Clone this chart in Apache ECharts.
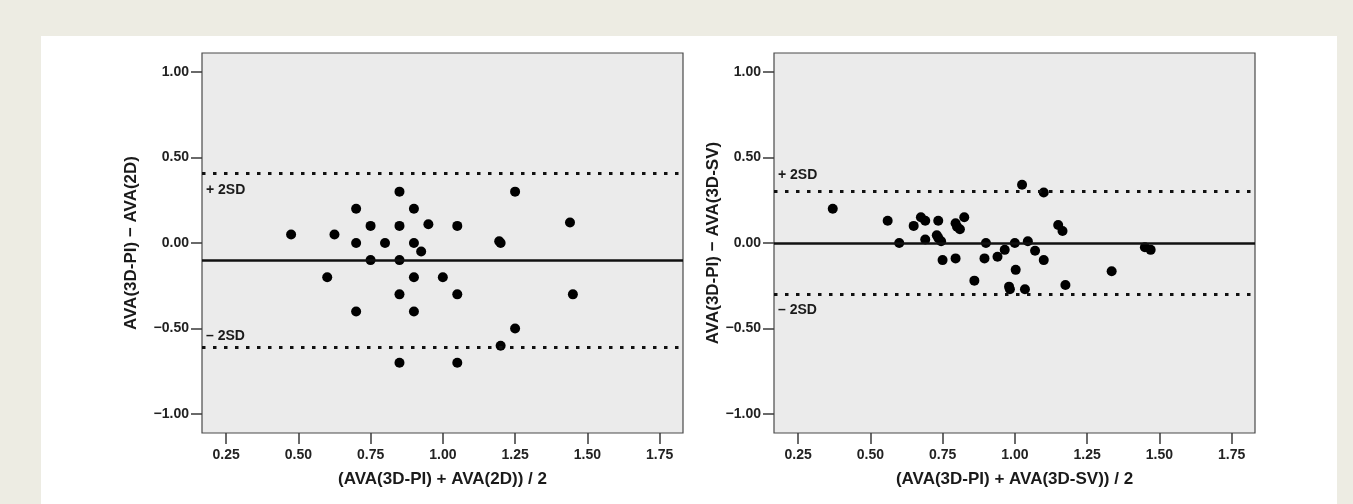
<!DOCTYPE html>
<html>
<head>
<meta charset="utf-8">
<script src="https://cdn.jsdelivr.net/npm/echarts@6/dist/echarts.min.js"></script>
<style>
  html, body { margin: 0; padding: 0; background: #edece3; }
  #card { position: absolute; left: 41px; top: 36px; width: 1296px; height: 468px; background: #fff; }
  #main { position: absolute; left: 0; top: 0; width: 1353px; height: 504px; }
</style>
</head>
<body>
<div id="card"></div>
<div id="main"></div>
<script>
// tick values shared by both panels
var xTicks = [0.25, 0.5, 0.75, 1.0, 1.25, 1.5, 1.75];
var yTicks = [-1.0, -0.5, 0.0, 0.5, 1.0];

// left panel: 3D-PI vs 2D
var leftMeanX = [0.475, 0.625, 0.60, 0.70, 0.70, 0.70, 0.75, 0.75, 0.80, 0.85, 0.85, 0.85, 0.85, 0.85,
  0.90, 0.90, 0.90, 0.90, 0.925, 0.95, 1.00, 1.05, 1.05, 1.05, 1.195, 1.20, 1.20, 1.25, 1.25, 1.44, 1.45];
var leftDiff = [0.05, 0.05, -0.20, 0.20, 0.00, -0.40, 0.10, -0.10, 0.00, 0.30, 0.10, -0.10, -0.30, -0.70,
  0.20, 0.00, -0.20, -0.40, -0.05, 0.11, -0.20, 0.10, -0.30, -0.70, 0.01, 0.00, -0.60, 0.30, -0.50, 0.12, -0.30];
var leftBias = -0.10;
var leftUpper = 0.41;
var leftLower = -0.61;

// right panel: 3D-PI vs 3D-SV
var rightMeanX = [0.37, 0.56, 0.60, 0.65, 0.675, 0.69, 0.69, 0.73, 0.735, 0.735, 0.745, 0.75, 0.795, 0.80,
  0.81, 0.825, 0.795, 0.86, 0.895, 0.90, 0.94, 0.965, 0.98, 0.983, 1.00, 1.003, 1.025, 1.035, 1.045,
  1.07, 1.10, 1.10, 1.15, 1.165, 1.175, 1.335, 1.45, 1.47];
var rightDiff = [0.20, 0.13, 0.00, 0.10, 0.15, 0.13, 0.02, 0.045, 0.13, 0.03, 0.01, -0.10, 0.115, 0.095,
  0.08, 0.15, -0.09, -0.22, -0.09, 0.00, -0.08, -0.04, -0.255, -0.27, 0.00, -0.157, 0.34, -0.27, 0.01,
  -0.045, 0.295, -0.10, 0.105, 0.07, -0.245, -0.165, -0.025, -0.04];
var rightBias = 0.00;
var rightUpper = 0.30;
var rightLower = -0.30;

var FONT = "'Liberation Sans', Arial, sans-serif";

function pairs(xs, ys) {
  return xs.map(function (x, i) { return [x, ys[i]]; });
}

function fmt(v) {
  return (v < 0 ? '\u2212' : '') + Math.abs(v).toFixed(2);
}

var tickStyle = { color: '#3a3a3a', width: 1.5 };

function xAxisOf(idx, title) {
  return {
    type: 'value', gridIndex: idx, min: 0.1667, max: 1.831,
    name: title, nameLocation: 'middle', nameGap: 38,
    nameTextStyle: { fontFamily: FONT, fontWeight: 'bold', fontSize: 17, color: '#1a1a1a' },
    axisLine: { show: false, onZero: false },
    splitLine: { show: false },
    axisTick: { show: true, customValues: xTicks, length: 11, lineStyle: tickStyle },
    axisLabel: { customValues: xTicks, formatter: fmt, margin: 15,
      fontFamily: FONT, fontWeight: 'bold', fontSize: 14, color: '#222' }
  };
}

function yAxisOf(idx, title, gap) {
  return {
    type: 'value', gridIndex: idx, min: -1.11, max: 1.11,
    name: title, nameLocation: 'middle', nameGap: gap, nameRotate: 90,
    nameTextStyle: { fontFamily: FONT, fontWeight: 'bold', fontSize: 17, color: '#1a1a1a' },
    axisLine: { show: false, onZero: false },
    splitLine: { show: false },
    axisTick: { show: true, customValues: yTicks, length: 11, lineStyle: tickStyle },
    axisLabel: { customValues: yTicks, formatter: fmt, margin: 13,
      fontFamily: FONT, fontWeight: 'bold', fontSize: 14, color: '#222' }
  };
}

function sdLabel(text, pos, dy) {
  return { show: true, formatter: text, position: pos, distance: [4, dy],
    fontFamily: FONT, fontWeight: 'bold', fontSize: 14, color: '#1a1a1a' };
}

var dotted = { color: '#111', width: 3, type: [3.5, 7.5] };
var solid = { color: '#111', width: 2.5, type: 'solid' };

function series(idx, xs, ys, bias, upper, lower, upLab, lowLab) {
  return {
    type: 'scatter', xAxisIndex: idx, yAxisIndex: idx,
    data: pairs(xs, ys), symbolSize: 10,
    itemStyle: { color: '#000', opacity: 1 },
    markLine: {
      silent: true, symbol: 'none', animation: false,
      data: [
        { yAxis: bias, lineStyle: solid, label: { show: false } },
        { yAxis: upper, lineStyle: dotted, label: upLab },
        { yAxis: lower, lineStyle: dotted, label: lowLab }
      ]
    }
  };
}

var myChart = echarts.init(document.getElementById('main'));
var option = {
  animation: false,
  backgroundColor: 'transparent',
  grid: [
    { left: 202, top: 53, width: 481, height: 380, show: true, backgroundColor: '#ebebeb', borderColor: '#4a4a4a', borderWidth: 1.2 },
    { left: 774, top: 53, width: 481, height: 380, show: true, backgroundColor: '#ebebeb', borderColor: '#4a4a4a', borderWidth: 1.2 }
  ],
  xAxis: [
    xAxisOf(0, '(AVA(3D-PI) + AVA(2D)) / 2'),
    xAxisOf(1, '(AVA(3D-PI) + AVA(3D-SV)) / 2')
  ],
  yAxis: [
    yAxisOf(0, 'AVA(3D-PI) \u2212 AVA(2D)', 62),
    yAxisOf(1, 'AVA(3D-PI) \u2212 AVA(3D-SV)', 47)
  ],
  series: [
    series(0, leftMeanX, leftDiff, leftBias, leftUpper, leftLower,
      sdLabel('+ 2SD', 'insideStartBottom', 10), sdLabel('\u2013 2SD', 'insideStartTop', 4)),
    series(1, rightMeanX, rightDiff, rightBias, rightUpper, rightLower,
      sdLabel('+ 2SD', 'insideStartTop', 10), sdLabel('\u2013 2SD', 'insideStartBottom', 9))
  ]
};
myChart.setOption(option);
</script>
</body>
</html>
